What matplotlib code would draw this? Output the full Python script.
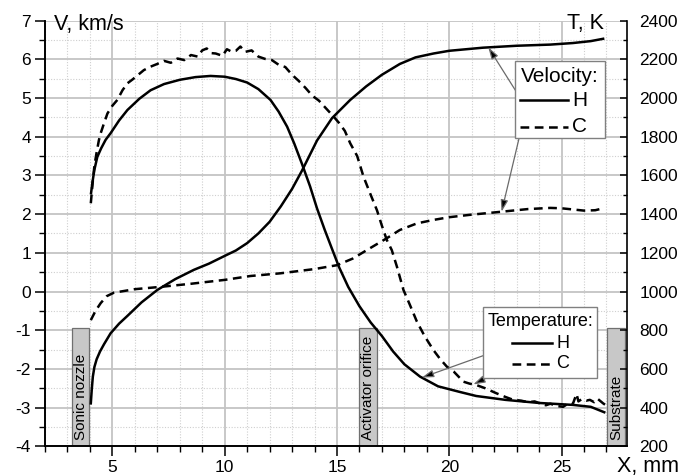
import numpy as np
import matplotlib
matplotlib.use("Agg")
import matplotlib.pyplot as plt
from matplotlib.patches import Rectangle
from matplotlib.lines import Line2D
from matplotlib.transforms import Affine2D
from matplotlib.ticker import MultipleLocator

plt.rcParams["font.family"] = ["Liberation Sans", "DejaVu Sans"]
plt.rcParams["axes.unicode_minus"] = False

# --- velocity, km/s (left axis) ---
vel_h_x = [4.04, 4.08, 4.13, 4.2, 4.3, 4.45, 4.63, 4.92, 5.3, 5.67, 6.3, 7.0,
           7.8, 8.63, 9.3, 10.0, 10.5, 11.0, 11.5, 12.0, 12.5, 13.0, 13.44,
           14.11, 14.78, 15.59, 16.3, 17.0, 17.8, 18.5, 19.3, 20.0, 21.5,
           23.0, 24.5, 25.5, 26.3, 26.85]
vel_h = [-2.89, -2.55, -2.2, -1.95, -1.75, -1.55, -1.36, -1.08, -0.83, -0.63,
         -0.28, 0.04, 0.32, 0.56, 0.72, 0.92, 1.06, 1.25, 1.5, 1.8, 2.2, 2.65,
         3.12, 3.9, 4.48, 4.95, 5.3, 5.6, 5.88, 6.05, 6.15, 6.22, 6.3, 6.35,
         6.38, 6.42, 6.47, 6.53]

vel_c_x = [4.04, 4.25, 4.48, 4.75, 5.07, 6.0, 7.15, 8.5, 10.0, 11.14, 12.48,
           14.0, 15.0, 15.7, 16.33, 17.2, 17.8, 18.56, 19.3, 20.0, 20.9, 22.3,
           23.5, 24.5, 25.0, 25.5, 26.0, 26.5, 26.85]
vel_c = [-0.74, -0.5, -0.3, -0.12, -0.03, 0.06, 0.12, 0.2, 0.3, 0.4, 0.47,
         0.58, 0.68, 0.85, 1.07, 1.37, 1.59, 1.76, 1.85, 1.92, 1.98, 2.06,
         2.13, 2.16, 2.15, 2.12, 2.09, 2.1, 2.15]

# --- temperature, K (right axis) ---
tem_h_x = [4.05, 4.12, 4.2, 4.33, 4.5, 4.7, 4.92, 5.3, 5.67, 6.2, 6.7, 7.3,
           8.0, 8.7, 9.37, 10.0, 10.5, 11.0, 11.5, 12.04, 12.4, 12.78, 13.1,
           13.44, 13.8, 14.11, 14.45, 14.78, 15.1, 15.5, 16.0, 16.5, 17.0,
           17.5, 18.0, 18.7, 19.5, 20.5, 21.2, 22.5, 24.0, 25.5, 26.3, 26.9]
tem_h = [1508, 1570, 1630, 1696, 1740, 1784, 1818, 1884, 1938, 1996, 2040,
         2072, 2094, 2108, 2114, 2110, 2098, 2080, 2046, 1990, 1930, 1852,
         1764, 1660, 1544, 1430, 1320, 1220, 1124, 1024, 924, 840, 770, 690,
         624, 560, 510, 480, 460, 440, 424, 414, 404, 376]

tem_c_x = [4.04, 4.12, 4.2, 4.3, 4.4, 4.48, 4.6, 4.78, 5.0, 5.22, 5.45, 5.67,
           5.9, 6.15, 6.4, 6.7, 7.0, 7.3, 7.6, 7.9, 8.2, 8.5, 8.8, 9.0, 9.2,
           9.4, 9.6, 9.9, 10.1, 10.3, 10.5, 10.7, 10.9, 11.2, 11.5, 11.8,
           12.1, 12.4, 12.7, 13.0, 13.3, 13.6, 13.9, 14.2, 14.5, 14.85, 15.1,
           15.35, 15.59, 15.9, 16.18, 16.5, 16.78, 17.0, 17.22, 17.44, 17.67,
           17.96, 18.25, 18.56, 18.9, 19.29, 19.6, 19.89, 20.2, 20.63, 20.9,
           21.22, 21.6, 22.1, 22.5, 22.85, 23.2, 23.5, 23.8, 24.03, 24.3,
           24.5, 24.8, 25.07, 25.3, 25.5, 25.6, 25.67, 25.75, 25.9, 26.1,
           26.26, 26.45, 26.6, 26.85, 26.95]
tem_c = [1456, 1560, 1650, 1720, 1782, 1818, 1860, 1920, 1960, 1990, 2040,
         2076, 2096, 2120, 2144, 2162, 2176, 2192, 2182, 2204, 2196, 2222,
         2214, 2246, 2256, 2232, 2230, 2218, 2252, 2240, 2244, 2266, 2238,
         2246, 2214, 2202, 2196, 2172, 2160, 2120, 2088, 2052, 2012, 1986,
         1948, 1904, 1870, 1830, 1766, 1700, 1594, 1500, 1420, 1340, 1266,
         1214, 1128, 1008, 930, 844, 770, 698, 650, 612, 586, 534, 524, 516,
         500, 474, 455, 440, 436, 428, 432, 422, 412, 420, 408, 404, 422, 418,
         450, 470, 432, 444, 436, 440, 428, 446, 422, 414]

# gray markers: (label, x0, x1)
boxes = [("Sonic nozzle", 3.2, 3.97),
         ("Activator orifice", 16.0, 16.8),
         ("Substrate", 27.02, 27.82)]

W, H = 688, 476
fig = plt.figure(figsize=(W/100, H/100), dpi=100)
pix = Affine2D().scale(1/W, -1/H).translate(0, 1) + fig.transFigure

ax = fig.add_axes([45/W, 1 - 446.3/H, (626.7 - 45)/W, (446.3 - 20.6)/H])
ax2 = ax.twinx()

ax.set_xlim(2.0, 27.9)
ax.set_ylim(-4, 7)
ax2.set_ylim(200, 2400)

ax.xaxis.set_major_locator(MultipleLocator(5))
ax.xaxis.set_minor_locator(MultipleLocator(1))
ax.yaxis.set_major_locator(MultipleLocator(1))
ax.yaxis.set_minor_locator(MultipleLocator(0.5))
ax2.yaxis.set_major_locator(MultipleLocator(200))
ax2.yaxis.set_minor_locator(MultipleLocator(100))

ax.grid(which="major", color="#c4c4c4", lw=1.3)
ax.grid(which="minor", color="#cfcfcf", lw=0.8, ls=(0, (1, 1.5)))
ax.set_axisbelow(True)

for a in (ax, ax2):
    a.spines["top"].set_visible(False)
    for s in a.spines.values():
        s.set_linewidth(1.2)
ax.spines["right"].set_visible(False)
ax.tick_params(axis="both", which="major", direction="out", length=7,
               width=1.1, labelsize=12.5, pad=3)
ax.tick_params(axis="both", which="minor", direction="out", length=4,
               width=1.0)
ax2.tick_params(axis="y", which="major", direction="in", length=5,
                width=1.1, labelsize=12.5, pad=9)
ax2.tick_params(axis="y", which="minor", direction="in", length=3, width=1.0)

ax.plot(vel_h_x, vel_h, color="k", lw=1.8, zorder=3)
ax.plot(vel_c_x, vel_c, color="k", lw=1.8, dashes=(3.5, 2.2), zorder=3)
ax2.plot(tem_h_x, tem_h, color="k", lw=1.8, zorder=3)
ax2.plot(tem_c_x, tem_c, color="k", lw=1.8, dashes=(3.5, 2.2), zorder=3)

for label, x0, x1 in boxes:
    ax.add_patch(Rectangle((x0, -4), x1 - x0, 3.05, fc="#c8c8c8",
                           ec="#707070", lw=0.9, zorder=2))
    ax.text((x0 + x1)/2, -3.85, label, rotation=90, ha="center",
            va="bottom", fontsize=11, zorder=2.5)

# axis titles
fig.text(54/W, 1 - 14/H, "V, km/s", fontsize=15.5, va="top", ha="left")
fig.text(604/W, 1 - 13/H, "T, K", fontsize=15.5, va="top", ha="right")
fig.text(617/W, 1 - 456/H, "X, mm", fontsize=15.5, va="top", ha="left")


def legend_box(x0, y0, x1, y1, title, rows, fs):
    fig.add_artist(Rectangle((x0, y0), x1 - x0, y1 - y0, transform=pix,
                             fc="white", ec="#808080", lw=1.0, zorder=5))
    fig.text(title[1]/W, 1 - title[2]/H, title[0], fontsize=fs,
             va="center", ha="left", zorder=6)
    for (lx0, lx1, ly, dash, txt) in rows:
        ln = Line2D([lx0, lx1], [ly, ly], transform=pix, color="k", lw=1.8,
                    zorder=6)
        if dash:
            ln.set_dashes((3.5, 2.2))
        fig.add_artist(ln)
        fig.text((lx1 + 4)/W, 1 - ly/H, txt, fontsize=fs, va="center",
                 ha="left", zorder=6)


legend_box(515, 61, 605, 138, ("Velocity:", 521, 76),
           [(520, 568, 100, False, "H"), (520, 568, 127, True, "C")], 15)
legend_box(483, 307, 597, 378, ("Temperature:", 488, 322),
           [(512, 552, 343, False, "H"), (512, 552, 364, True, "C")], 13)

arrow = dict(arrowstyle="-|>,head_length=0.7,head_width=0.22",
             ec="#6a6a6a", fc="black", lw=0.9, shrinkA=0, shrinkB=0)
# arrow targets read on the curves
ax.annotate("", xy=(21.74, np.interp(21.74, vel_h_x, vel_h)),
            xytext=(521.5, 100), textcoords=pix, arrowprops=arrow,
            annotation_clip=False)
ax.annotate("", xy=(22.33, np.interp(22.33, vel_c_x, vel_c)),
            xytext=(521.5, 128), textcoords=pix, arrowprops=arrow,
            annotation_clip=False)
ax2.annotate("", xy=(18.78, np.interp(18.78, tem_h_x, tem_h)),
             xytext=(513, 345), textcoords=pix, arrowprops=arrow,
             annotation_clip=False)
ax2.annotate("", xy=(21.07, np.interp(21.07, tem_c_x, tem_c)),
             xytext=(513, 365), textcoords=pix, arrowprops=arrow,
             annotation_clip=False)

fig.savefig("out.png", dpi=100)
